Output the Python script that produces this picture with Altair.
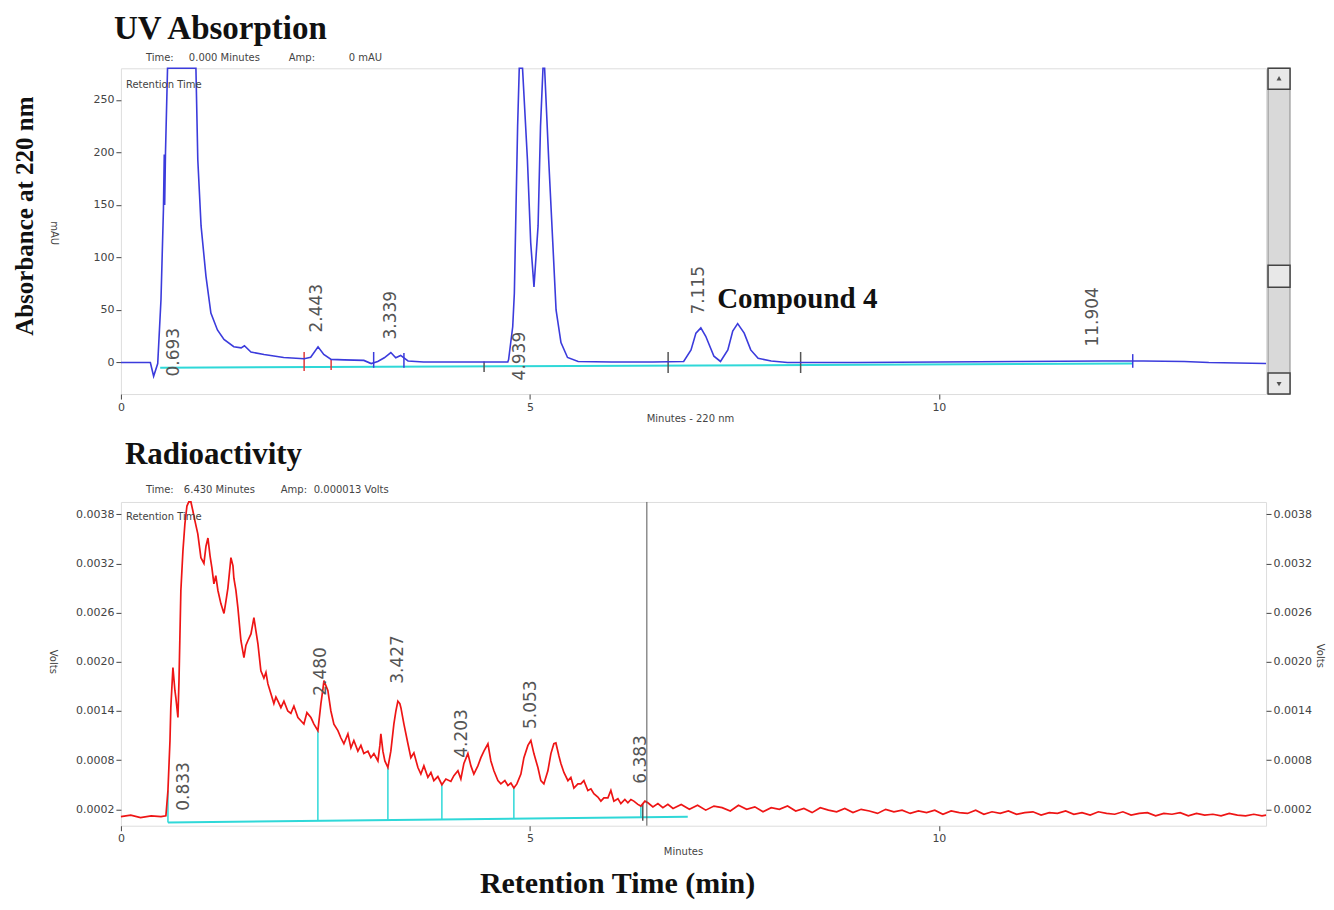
import altair as alt
import pandas as pd

# ---------------- UV trace (minutes, mAU) ----------------
uv_t = [0.00, 0.20, 0.36, 0.40, 0.45, 0.49, 0.52, 0.53, 0.535, 0.545,
        0.57, 0.75, 0.917, 0.94, 0.98, 1.04, 1.10, 1.18, 1.26, 1.38,
        1.47, 1.51, 1.59, 1.75, 1.99, 2.24, 2.32, 2.41, 2.48, 2.57,
        2.73, 2.97, 3.06, 3.14, 3.22, 3.30, 3.36, 3.42, 3.51, 3.70,
        4.20, 4.73, 4.74, 4.79, 4.81, 4.83, 4.85, 4.87, 4.91, 4.97,
        5.01, 5.05, 5.10, 5.13, 5.16, 5.18, 5.23, 5.28, 5.32, 5.38,
        5.46, 5.59, 6.00, 6.50, 6.88, 6.97, 7.03, 7.09, 7.15, 7.25,
        7.33, 7.42, 7.48, 7.54, 7.62, 7.70, 7.79, 7.95, 8.15, 9.00,
        10.00, 11.00, 12.00, 12.50, 13.00, 13.30, 14.00]
uv_v = [0, 0, 0, -13, -1, 60, 146, 198, 150, 200,
        300, 500, 290, 193, 130, 82, 47, 31, 22, 15,
        14, 16, 10, 7.6, 4.8, 3.6, 5, 15, 7.6, 3,
        2.5, 2, -1, 1, 4.5, 9.5, 4.5, 6.7, 1.5, 0.5,
        0.5, 0.5, 3, 34, 66, 146, 225, 290, 330, 193,
        114, 72, 130, 225, 290, 330, 193, 114, 50, 19,
        4.8, 1, 0.5, 0.5, 1, 12, 28, 33, 25, 6,
        1, 12, 30, 37, 28, 12, 4, 1.5, 0, 0,
        0.5, 1, 1.5, 1.5, 1, 0, -1]

uv_base_t = [0.48, 12.37]
uv_base_v = [-5.0, -1.0]

uv_red_tick_t = [2.24, 2.57]
uv_red_tick_lo = [-8, -7]
uv_red_tick_hi = [10, 3]
uv_blue_tick_t = [3.09, 3.46, 12.37]
uv_blue_tick_lo = [-5, -5, -5]
uv_blue_tick_hi = [10, 9, 8]
uv_grey_tick_t = [4.44, 6.69, 8.31]
uv_grey_tick_lo = [-9, -10, -10]
uv_grey_tick_hi = [1, 10, 10]

uv_label_text = ["0.693", "2.443", "3.339", "4.939", "7.115", "11.904"]
uv_label_t = [0.648, 2.40, 3.30, 4.88, 7.07, 11.89]
uv_label_v = [-13.3, 28.6, 21.9, -17.0, 45.7, 15.2]

compound_text = ["Compound 4"]
compound_t = [7.29]
compound_v = [60]

# ---------------- Radioactivity trace (minutes, 1e-4 Volts) ----------------
rad_t = [0.00, 0.12, 0.24, 0.37, 0.49, 0.55, 0.575, 0.60, 0.61, 0.636,
         0.66, 0.672, 0.697, 0.71, 0.733, 0.758, 0.782, 0.807, 0.83, 0.856,
         0.88, 0.905, 0.94, 0.978, 1.015, 1.04, 1.064, 1.09, 1.112, 1.137,
         1.16, 1.186, 1.222, 1.26, 1.284, 1.308, 1.345, 1.37, 1.381, 1.406,
         1.43, 1.467, 1.504, 1.528, 1.553, 1.59, 1.626, 1.65, 1.675, 1.711,
         1.748, 1.773, 1.797, 1.834, 1.87, 1.895, 1.92, 1.956, 1.993, 2.04,
         2.078, 2.115, 2.164, 2.20, 2.237, 2.274, 2.323, 2.36, 2.408, 2.433,
         2.445, 2.47, 2.482, 2.506, 2.53, 2.567, 2.604, 2.653, 2.69, 2.726,
         2.775, 2.812, 2.848, 2.897, 2.934, 2.97, 3.02, 3.056, 3.093, 3.142,
         3.166, 3.178, 3.203, 3.227, 3.264, 3.30, 3.337, 3.362, 3.386, 3.41,
         3.423, 3.46, 3.509, 3.545, 3.582, 3.631, 3.667, 3.704, 3.753, 3.79,
         3.826, 3.875, 3.924, 3.973, 4.034, 4.071, 4.12, 4.156, 4.193, 4.242,
         4.279, 4.315, 4.364, 4.401, 4.438, 4.487, 4.523, 4.56, 4.609, 4.645,
         4.694, 4.731, 4.768, 4.804, 4.841, 4.89, 4.927, 4.976, 5.012, 5.049,
         5.098, 5.134, 5.171, 5.22, 5.257, 5.293, 5.318, 5.355, 5.379, 5.416,
         5.465, 5.501, 5.538, 5.587, 5.623, 5.66, 5.709, 5.746, 5.782, 5.831,
         5.868, 5.905, 5.954, 5.99, 6.027, 6.076, 6.112, 6.161, 6.198, 6.235,
         6.271, 6.32, 6.357, 6.406, 6.443, 6.504, 6.565, 6.626, 6.687, 6.75,
         6.85, 6.95, 7.05, 7.15, 7.25, 7.35, 7.45, 7.55, 7.65, 7.75,
         7.85, 7.95, 8.05, 8.15, 8.25, 8.35, 8.45, 8.55, 8.65, 8.75,
         8.85, 8.95, 9.05, 9.15, 9.25, 9.35, 9.45, 9.55, 9.65, 9.75,
         9.85, 9.95, 10.05, 10.15, 10.25, 10.35, 10.45, 10.55, 10.65, 10.75,
         10.85, 10.95, 11.05, 11.15, 11.25, 11.35, 11.45, 11.55, 11.65, 11.75,
         11.85, 11.95, 12.05, 12.15, 12.25, 12.35, 12.45, 12.55, 12.65, 12.75,
         12.85, 12.95, 13.05, 13.15, 13.25, 13.35, 13.45, 13.55, 13.65, 13.75,
         13.85, 13.95, 14.00]
rad_v = [1.1, 1.3, 1.0, 1.2, 1.1, 1.2, 4.3, 10.4, 14.4, 19.3,
         16.5, 15.6, 13.2, 17.7, 28.7, 33.5, 36.8, 39.0, 41.0, 40.2,
         38.4, 37.2, 35.6, 32.7, 32.0, 34.1, 35.1, 32.9, 31.5, 29.5,
         30.5, 28.7, 27.1, 25.9, 27.4, 29.0, 32.7, 31.7, 30.2, 28.7,
         26.6, 22.6, 20.5, 22.0, 22.6, 23.4, 25.4, 23.8, 22.2, 18.9,
         18.0, 18.7, 17.3, 16.1, 14.9, 15.7, 15.2, 14.4, 15.2, 14.0,
         13.7, 14.6, 13.2, 12.8, 12.4, 13.8, 13.2, 12.4, 11.6, 13.8,
         14.9, 16.7, 17.7, 17.1, 16.5, 14.0, 12.4, 11.6, 10.7, 10.0,
         11.2, 9.5, 10.4, 9.1, 9.8, 8.8, 9.1, 8.3, 8.8, 7.9,
         9.8, 11.2, 9.1, 7.9, 7.1, 9.1, 12.4, 14.0, 15.2, 14.9,
         14.4, 12.4, 10.0, 8.3, 8.9, 7.1, 6.3, 7.3, 5.9, 6.5,
         5.5, 6.0, 5.0, 5.7, 5.4, 6.1, 6.7, 5.7, 7.6, 8.8,
         7.3, 6.3, 7.3, 8.3, 9.1, 10.0, 7.9, 6.7, 5.5, 5.1,
         5.5, 4.9, 5.2, 4.6, 5.1, 6.3, 8.3, 9.8, 10.4, 8.8,
         7.1, 5.5, 5.1, 6.7, 8.8, 10.0, 10.1, 8.5, 7.6, 6.5,
         5.5, 5.9, 4.6, 5.1, 5.1, 5.5, 4.3, 4.5, 3.9, 3.5,
         3.0, 3.4, 3.4, 4.3, 3.0, 3.3, 2.7, 3.2, 2.8, 3.2,
         3.0, 2.6, 2.4, 3.0, 2.8, 2.3, 2.7, 2.2, 2.6, 2.1,
         2.6, 2.0, 2.5, 1.9, 2.4, 2.2, 1.8, 2.5, 2.0, 2.3,
         1.7, 2.2, 2.0, 2.4, 1.8, 2.1, 1.6, 2.2, 1.9, 1.7,
         2.1, 1.6, 2.0, 1.8, 1.5, 2.0, 1.7, 1.9, 1.5, 1.8,
         1.6, 1.9, 1.4, 1.8, 1.6, 1.5, 1.9, 1.4, 1.7, 1.5,
         1.8, 1.4, 1.6, 1.7, 1.3, 1.6, 1.5, 1.8, 1.4, 1.6,
         1.3, 1.7, 1.5, 1.4, 1.7, 1.3, 1.5, 1.6, 1.2, 1.5,
         1.4, 1.6, 1.2, 1.5, 1.3, 1.4, 1.2, 1.5, 1.3, 1.2,
         1.4, 1.2, 1.3]

rad_base_t = [0.575, 6.93]
rad_base_v = [0.4, 1.1]

rad_drop_t = [0.575, 2.408, 3.264, 3.924, 4.804, 6.357]
rad_drop_top = [4.3, 11.6, 7.1, 5.0, 4.6, 2.4]
rad_drop_bottom = [0.4, 0.6, 0.7, 0.77, 0.87, 1.04]

rad_tick_t = [6.38]
rad_tick_lo = [0.6]
rad_tick_hi = [2.7]

rad_label_text = ["0.833", "2.480", "3.427", "4.203", "5.053", "6.383"]
rad_label_t = [0.77, 2.445, 3.386, 4.17, 5.01, 6.357]
rad_label_v = [1.83, 15.85, 17.32, 8.3, 11.8, 5.12]

cursor_t = [6.43]

uv_y_ticks = [0, 50, 100, 150, 200, 250]
rad_y_ticks = [0.0002, 0.0008, 0.0014, 0.0020, 0.0026, 0.0032, 0.0038]
x_ticks = [0, 5, 10]

# ---------------- style ----------------
W = 1146
H_TOP = 326
H_BOT = 324
SANS = "DejaVu Sans"
SERIF = "Liberation Serif"
BLUE = "#3b3bdc"
RED = "#ee1515"
CYAN = "#2fd8d8"
GREY = "#555555"
ONE = pd.DataFrame({"k": [0]})
V = 1e-4

AX = dict(labelFont=SANS, labelFontSize=11, labelColor="#444", tickColor="#444",
          tickSize=5, domain=False, grid=False, title=None, labelPadding=2)

x_scale = alt.Scale(domain=[0, 14.0], nice=False, zero=False)
x_enc = alt.X("t:Q", scale=x_scale,
              axis=alt.Axis(values=x_ticks, format="d", labelFlush=False, **AX))

uv_scale = alt.Scale(domain=[-30, 280], nice=False, zero=False, clamp=True)
uv_y_axis = alt.Y("v:Q", scale=uv_scale,
                  axis=alt.Axis(values=uv_y_ticks, format="d", orient="left", **AX))
uv_y_none = alt.Y("v:Q", scale=uv_scale, axis=None)

rad_scale = alt.Scale(domain=[0, 0.00395], nice=False, zero=False, clamp=True)
rad_y_left = alt.Y("v:Q", scale=rad_scale,
                   axis=alt.Axis(values=rad_y_ticks, format=".4f", orient="left", **AX))
rad_y_right = alt.Y("v:Q", scale=rad_scale,
                    axis=alt.Axis(values=rad_y_ticks, format=".4f", orient="right", **AX))
rad_y_none = alt.Y("v:Q", scale=rad_scale, axis=None)


def label(text, x, y, size=10, font=SANS, weight="normal", color="#444",
          align="left", angle=0, baseline="middle"):
    return alt.Chart(ONE).mark_text(
        text=text, font=font, fontSize=size, fontWeight=weight, color=color,
        align=align, angle=angle, baseline=baseline
    ).encode(x=alt.value(x), y=alt.value(y))


def box(x1, x2, y1, y2, fill, stroke, sw=1.0):
    return alt.Chart(ONE).mark_rect(fill=fill, stroke=stroke, strokeWidth=sw).encode(
        x=alt.value(x1), x2=alt.value(x2), y=alt.value(y1), y2=alt.value(y2))


def ticks_layer(ts, lo, hi, color, yenc):
    df = pd.DataFrame({"t": ts, "v": lo, "v2": hi})
    return alt.Chart(df).mark_rule(color=color, strokeWidth=1.5).encode(
        x=x_enc, y=yenc, y2=alt.Y2("v2:Q"))


# ---------------- top panel ----------------
uv_df = pd.DataFrame({"t": uv_t, "v": uv_v})
uv_base_df = pd.DataFrame({"t": uv_base_t, "v": uv_base_v})
uv_lab_df = pd.DataFrame({"t": uv_label_t, "v": uv_label_v, "txt": uv_label_text})
comp_df = pd.DataFrame({"t": compound_t, "v": compound_v, "txt": compound_text})

top_layers = [
    alt.Chart(uv_base_df).mark_line(color=CYAN, strokeWidth=2).encode(x=x_enc, y=uv_y_none),
    ticks_layer(uv_red_tick_t, uv_red_tick_lo, uv_red_tick_hi, "#e03a3a", uv_y_none),
    ticks_layer(uv_blue_tick_t, uv_blue_tick_lo, uv_blue_tick_hi, BLUE, uv_y_none),
    ticks_layer(uv_grey_tick_t, uv_grey_tick_lo, uv_grey_tick_hi, GREY, uv_y_none),
    alt.Chart(uv_df).mark_line(color=BLUE, strokeWidth=1.6).encode(x=x_enc, y=uv_y_axis),
    alt.Chart(uv_lab_df).mark_text(angle=270, align="left", baseline="middle", font=SANS,
                                   fontSize=17, color="#555").encode(
        x=x_enc, y=uv_y_none, text="txt:N"),
    alt.Chart(comp_df).mark_text(align="left", baseline="middle", font=SERIF, fontSize=29,
                                 fontWeight="bold", color="#111").encode(
        x=x_enc, y=uv_y_none, text="txt:N"),
    # titles and header texts
    label("UV Absorption", -7, -29, size=33, font=SERIF, weight="bold", color="#111",
          baseline="alphabetic"),
    label("Time:", 25, -10, size=10),
    label("0.000 Minutes", 68, -10, size=10),
    label("Amp:", 168, -10, size=10),
    label("0 mAU", 228, -10, size=10),
    label("Retention Time", 5, 17, size=10),
    label("Absorbance at 220 nm", -96, 148, size=25, font=SERIF, weight="bold",
          color="#111", align="center", angle=270),
    label("mAU", -67, 165, size=10, align="center", angle=90),
    label("Minutes - 220 nm", 570, 351, size=10, align="center"),
    # scroll bar
    box(1148, 1170, 0, 326, "#d9d9d9", "#888", 1),
    box(1148, 1170, 0, 21, "#e8e8e8", "#444", 1.5),
    box(1148, 1170, 197, 219, "#e8e8e8", "#444", 1.5),
    box(1148, 1170, 305, 326, "#e8e8e8", "#444", 1.5),
    alt.Chart(ONE).mark_point(shape="triangle-up", filled=True, size=25, color="#111").encode(
        x=alt.value(1159), y=alt.value(10)),
    alt.Chart(ONE).mark_point(shape="triangle-down", filled=True, size=25, color="#111").encode(
        x=alt.value(1159), y=alt.value(316)),
    # invisible anchor fixing the top-left corner of the page layout
    alt.Chart(ONE).mark_rule(opacity=0, strokeOpacity=0).encode(
        x=alt.value(-112), x2=alt.value(-111), y=alt.value(-59), y2=alt.value(-58)),
]
top = alt.layer(*top_layers).resolve_axis(y="independent").properties(width=W, height=H_TOP)

# ---------------- bottom panel ----------------
rad_df = pd.DataFrame({"t": rad_t, "v": [x * V for x in rad_v]})
rad_base_df = pd.DataFrame({"t": rad_base_t, "v": [x * V for x in rad_base_v]})
rad_drop_df = pd.DataFrame({"t": rad_drop_t, "v": [x * V for x in rad_drop_top],
                            "v2": [x * V for x in rad_drop_bottom]})
rad_lab_df = pd.DataFrame({"t": rad_label_t, "v": [x * V for x in rad_label_v],
                           "txt": rad_label_text})
cursor_df = pd.DataFrame({"t": cursor_t})

bot_layers = [
    alt.Chart(rad_base_df).mark_line(color=CYAN, strokeWidth=2).encode(x=x_enc, y=rad_y_right),
    alt.Chart(rad_drop_df).mark_rule(color=CYAN, strokeWidth=1.5).encode(
        x=x_enc, y=rad_y_none, y2=alt.Y2("v2:Q")),
    ticks_layer(rad_tick_t, [x * V for x in rad_tick_lo], [x * V for x in rad_tick_hi],
                GREY, rad_y_none),
    alt.Chart(rad_df).mark_line(color=RED, strokeWidth=1.7).encode(x=x_enc, y=rad_y_left),
    alt.Chart(cursor_df).mark_rule(color=GREY, strokeWidth=1).encode(x=x_enc),
    alt.Chart(rad_lab_df).mark_text(angle=270, align="left", baseline="middle", font=SANS,
                                    fontSize=17, color="#555").encode(
        x=x_enc, y=rad_y_none, text="txt:N"),
    label("Radioactivity", 4, -38, size=31, font=SERIF, weight="bold", color="#111",
          baseline="alphabetic"),
    label("Time:", 25, -12, size=10),
    label("6.430 Minutes", 63, -12, size=10),
    label("Amp:", 160, -12, size=10),
    label("0.000013 Volts", 193, -12, size=10),
    label("Retention Time", 5, 15, size=10),
    label("Volts", -68, 160, size=10, align="center", angle=90),
    label("Volts", 1200, 154, size=10, align="center", angle=90),
    label("Minutes", 563, 350, size=10, align="center"),
    label("Retention Time (min)", 497, 391, size=30, font=SERIF, weight="bold",
          color="#111", align="center", baseline="alphabetic"),
]
bottom = alt.layer(*bot_layers).resolve_axis(y="independent").properties(width=W, height=H_BOT)

chart = alt.vconcat(top, bottom, spacing=108, bounds="flush").properties(padding=0)
chart = chart.configure_view(stroke="#666666", strokeWidth=2).configure(background="white")

chart.save("out.html", embed_options={"renderer": "svg", "actions": False})
